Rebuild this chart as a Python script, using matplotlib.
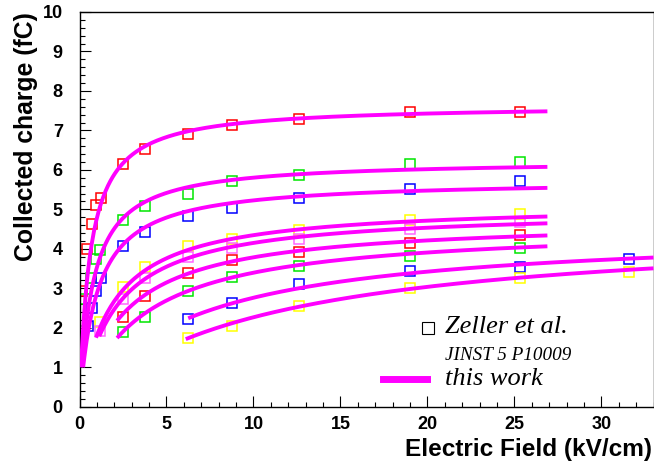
import numpy as np
import matplotlib
matplotlib.use("Agg")
import matplotlib.pyplot as plt
from matplotlib.ticker import MultipleLocator

# ---------------- data ----------------
# Zeller et al. data sets (collected charge in fC vs field in kV/cm)
s1_E = [0.15, 0.45, 0.72, 0.97, 1.22, 2.5, 3.75, 6.25, 8.75, 12.6, 19.0, 25.3]
s1_Q = [2.92, 4.00, 4.63, 5.10, 5.30, 6.14, 6.52, 6.91, 7.14, 7.28, 7.46, 7.47]
s2_E = [0.1, 0.3, 0.65, 0.92, 1.17, 2.5, 3.75, 6.25, 8.75, 12.6, 19.0, 25.3]
s2_Q = [1.92, 2.72, 3.27, 3.74, 3.96, 4.73, 5.09, 5.38, 5.72, 5.88, 6.16, 6.19]
s3_E = [0.5, 0.7, 0.93, 1.22, 2.5, 3.75, 6.25, 8.75, 12.6, 19.0, 25.3]
s3_Q = [2.05, 2.51, 2.92, 3.25, 4.08, 4.43, 4.84, 5.04, 5.29, 5.51, 5.72]
s4_E = [1.2, 2.5, 3.75, 6.25, 8.75, 12.6, 19.0, 25.3]
s4_Q = [2.15, 3.04, 3.54, 4.07, 4.26, 4.48, 4.73, 4.87]
s5_E = [1.2, 2.5, 3.75, 6.25, 8.75, 12.6, 19.0, 25.3]
s5_Q = [1.93, 2.74, 3.25, 3.80, 4.03, 4.26, 4.49, 4.68]
s6_E = [2.5, 3.75, 6.25, 8.75, 12.6, 19.0, 25.3]
s6_Q = [2.28, 2.81, 3.40, 3.72, 3.93, 4.16, 4.34]
s7_E = [2.5, 3.75, 6.25, 8.75, 12.6, 19.0, 25.3]
s7_Q = [1.89, 2.28, 2.94, 3.29, 3.57, 3.82, 4.02]
s8_E = [6.25, 8.75, 12.6, 19.0, 25.3, 31.6]
s8_Q = [2.21, 2.63, 3.10, 3.43, 3.55, 3.74]
s9_E = [6.25, 8.75, 12.6, 19.0, 25.3, 31.6]
s9_Q = [1.74, 2.05, 2.56, 3.02, 3.26, 3.41]

data_E = [s1_E, s2_E, s3_E, s4_E, s5_E, s6_E, s7_E, s8_E, s9_E]
data_Q = [s1_Q, s2_Q, s3_Q, s4_Q, s5_Q, s6_Q, s7_Q, s8_Q, s9_Q]
data_colors = ["#ff0000", "#00e600", "#0000ff", "#ffff00", "#ff66ff",
               "#ff0000", "#00e600", "#0000ff", "#ffff00"]

# "this work" model curves: Q(E) = Qinf * E / (E + k), drawn over [Emin, Emax]
fit_qinf = [7.65, 6.25, 5.75, 5.15, 5.00, 4.75, 4.60, 4.50, 4.60]
fit_k = [0.60, 0.77, 1.00, 1.85, 2.05, 2.55, 3.55, 6.30, 10.3]
fit_emin = [0.09, 0.15, 0.21, 0.95, 1.14, 2.16, 2.16, 6.25, 6.11]
fit_emax = [26.9, 26.9, 26.9, 26.9, 26.9, 26.9, 26.9, 33.0, 33.0]

x_ticks = [0, 5, 10, 15, 20, 25, 30]
y_ticks = list(range(0, 11))

# ---------------- figure ----------------
W, H = 654, 461
fig = plt.figure(figsize=(W / 100, H / 100), dpi=100)
ax = fig.add_axes([79.5 / W, (H - 406.7) / H, 574 / W, 394.7 / H])

for E, Q, c in zip(data_E, data_Q, data_colors):
    ax.plot(E, Q, linestyle="none", marker="s", ms=7, mfc="none",
            mec=c, mew=1.1, zorder=2)

for qi, k, e0, e1 in zip(fit_qinf, fit_k, fit_emin, fit_emax):
    e = np.linspace(e0, e1, 400)
    ax.plot(e, qi * e / (e + k), color="#ff00ff", lw=2.8, zorder=3,
            solid_capstyle="butt")

ax.set_xlim(0, 33)
ax.set_ylim(0, 10)
ax.set_xticks(x_ticks)
ax.set_yticks(y_ticks)
ax.xaxis.set_minor_locator(MultipleLocator(1))
ax.yaxis.set_minor_locator(MultipleLocator(0.2))
ax.tick_params(which="both", direction="in", top=False, right=False,
               width=0.8, color="black")
ax.tick_params(which="major", length=8)
ax.tick_params(which="minor", length=3.8)
ax.tick_params(axis="y", which="major", pad=12)
ax.tick_params(axis="x", which="major", pad=7)
for lab in ax.get_xticklabels() + ax.get_yticklabels():
    lab.set_fontfamily("Liberation Sans")
    lab.set_fontweight("bold")
    lab.set_fontsize(13)
for sp in ax.spines.values():
    sp.set_linewidth(1.0)

# axis titles (ROOT style, right/top aligned)
fig.text(652 / W, 1 - 456 / H, "Electric Field (kV/cm)", ha="right",
         va="baseline", fontfamily="Liberation Sans", fontweight="bold",
         fontsize=17.6)
fig.text(26 / W, 1 - 12 / H, "Collected charge (fC)", ha="center",
         va="top", rotation=90, fontfamily="Liberation Sans",
         fontweight="bold", fontsize=17.8)

# legend (drawn manually to match the ROOT layout)
fig.lines.append(plt.Line2D([427.7 / W], [1 - 328.3 / H], marker="s",
                            ms=9, mfc="none", mec="black", mew=0.8,
                            linestyle="none", transform=fig.transFigure))
fig.lines.append(plt.Line2D([383 / W, 427 / W], [1 - 379.3 / H] * 2,
                            color="#ff00ff", lw=5, transform=fig.transFigure))
fig.text(445 / W, 1 - 333.3 / H, "Zeller et al.", ha="left", va="baseline",
         fontfamily="Liberation Serif", fontstyle="italic", fontsize=19)
fig.text(445 / W, 1 - 360 / H, "JINST 5 P10009", ha="left", va="baseline",
         fontfamily="Liberation Serif", fontstyle="italic", fontsize=13.8)
fig.text(445 / W, 1 - 385 / H, "this work", ha="left", va="baseline",
         fontfamily="Liberation Serif", fontstyle="italic", fontsize=19)

fig.savefig("out.png", dpi=100)
